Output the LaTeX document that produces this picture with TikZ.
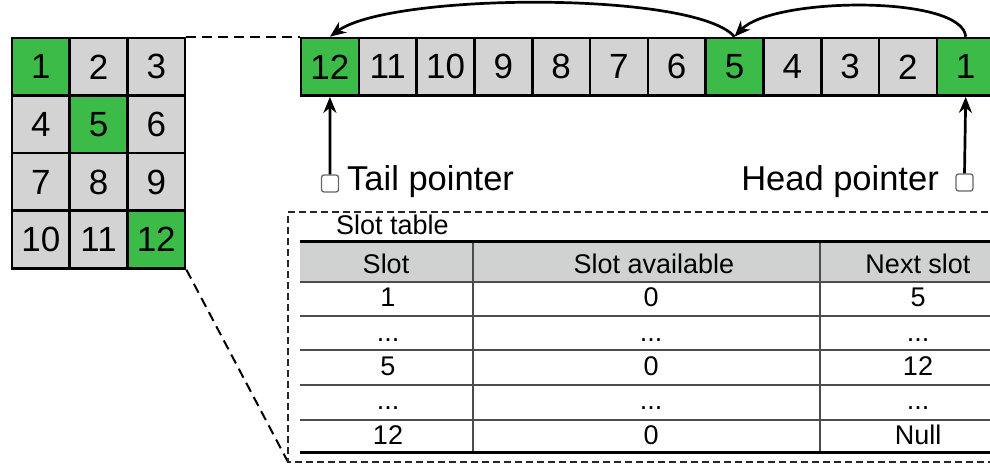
\documentclass[tikz,border=0pt]{standalone}
\usepackage{fontspec}
\setmainfont{Liberation Sans}
\usetikzlibrary{arrows.meta,calc}
\definecolor{cgreen}{RGB}{60,187,72}
\definecolor{cgray}{RGB}{211,211,211}
\definecolor{hgray}{RGB}{208,210,210}
\begin{document}
\begin{tikzpicture}[x=1pt,y=-1pt,
  cell/.style={draw=black,line width=2.6pt,fill=cgray,minimum width=57.7pt,minimum height=57.6pt,inner sep=0pt,font=\fontsize{35}{35}\selectfont},
  hot/.style={cell,fill=cgreen},
  ptr/.style={draw=black!60,fill=white,line width=1.3pt,rounded corners=2.5pt,minimum size=17pt,inner sep=0pt},
  lbl/.style={font=\fontsize{34.5}{34.5}\selectfont,inner sep=0pt},
  tt/.style={font=\fontsize{27}{27}\selectfont,inner sep=0pt,anchor=base},
  arr/.style={line width=2.7pt,-{Stealth[length=16pt,width=13pt]}},
  zoomline/.style={line width=2pt,dash pattern=on 10pt off 6pt},
  boxline/.style={line width=1.6pt,black!85,dash pattern=on 7pt off 4pt},
  thinrule/.style={line width=1.4pt,black!70},
  thickrule/.style={line width=3pt,black}
]
\useasboundingbox (0,0) rectangle (990,465);
\clip (0,0) rectangle (990,465);

% left grid
\node[hot]  (g1)  at (40.85,66.8)  {1};
\node[cell] (g2)  at (98.55,66.8)  {2};
\node[cell] (g3)  at (156.25,66.8) {3};
\node[cell] (g4)  at (40.85,124.4) {4};
\node[hot]  (g5)  at (98.55,124.4) {5};
\node[cell] (g6)  at (156.25,124.4){6};
\node[cell] (g7)  at (40.85,182)   {7};
\node[cell] (g8)  at (98.55,182)   {8};
\node[cell] (g9)  at (156.25,182)  {9};
\node[cell] (g10) at (40.85,239.6) {10};
\node[cell] (g11) at (98.55,239.6) {11};
\node[hot]  (g12) at (156.25,239.6){12};

% top row
\begin{scope}[cell/.append style={minimum width=57.8pt}]
\node[hot]  (r12) at (329.9,66.8) {12};
\node[cell] (r11) at (387.7,66.8) {11};
\node[cell] (r10) at (445.5,66.8) {10};
\node[cell] (r9)  at (503.3,66.8) {9};
\node[cell] (r8)  at (561.1,66.8) {8};
\node[cell] (r7)  at (618.9,66.8) {7};
\node[cell] (r6)  at (676.7,66.8) {6};
\node[hot]  (r5)  at (734.5,66.8) {5};
\node[cell] (r4)  at (792.3,66.8) {4};
\node[cell] (r3)  at (850.1,66.8) {3};
\node[cell] (r2)  at (907.9,66.8) {2};
\node[hot]  (r1)  at (965.7,66.8) {1};
\end{scope}

% links between occupied slots
\draw[arr] (r1.north) .. controls ($(r1.north)+(-3,-42)$) and ($(r5.north)+(38,-40)$) .. (r5.north);
\draw[arr] (r5.north) .. controls ($(r5.north)+(-40,-46)$) and ($(r12.north)+(60,-44)$) .. (r12.north);

% pointers
\node[ptr] (tp) at (330,183.5) {};
\node[ptr] (hp) at (964.5,182.5) {};
\draw[arr] (tp.north) -- (r12.south);
\draw[arr] (hp.north) -- (r1.south);
\node[lbl,anchor=base west] (tailtxt) at (347,190) {Tail pointer};
\node[lbl,anchor=base east] (headtxt) at (939,191) {Head pointer};

% zoom lines
\coordinate (tblsw) at (288,462);
\draw[zoomline] (g3.north east) -- (r12.north west);
\draw[zoomline] (g12.south east) -- (tblsw);

% slot table box
\draw[boxline] (1010,212) -- (288,212) -- (tblsw) -- (1010,462);
\node[tt,anchor=base west] (tbltitle) at (336,234) {Slot table};

% table
\fill[hgray] (300,241) rectangle (1016,282);
\foreach \yy in {282,316,350,385,420} {\draw[thinrule] (300,\yy) -- (1016,\yy);}
\draw[thinrule] (473,241) -- (473,452);
\draw[thinrule] (820,241) -- (820,452);
\draw[thickrule] (300,241) -- (1016,241);
\draw[thickrule] (300,452) -- (1016,452);

\node[tt] (h1) at (386,273) {Slot};
\node[tt] (h2) at (654,273) {Slot available};
\node[tt] (h3) at (918,273) {Next slot};

\node[tt] (a1) at (388,306) {1};
\node[tt] (a2) at (388,341) {...};
\node[tt] (a3) at (388,375) {5};
\node[tt] (a4) at (388,409) {...};
\node[tt] (a5) at (388,444) {12};

\node[tt] (b1) at (651,306) {0};
\node[tt] (b2) at (651,341) {...};
\node[tt] (b3) at (651,375) {0};
\node[tt] (b4) at (651,409) {...};
\node[tt] (b5) at (651,444) {0};

\node[tt] (c1) at (918,306) {5};
\node[tt] (c2) at (918,341) {...};
\node[tt] (c3) at (918,375) {12};
\node[tt] (c4) at (918,409) {...};
\node[tt] (c5) at (918,444) {Null};
\end{tikzpicture}
\end{document}
